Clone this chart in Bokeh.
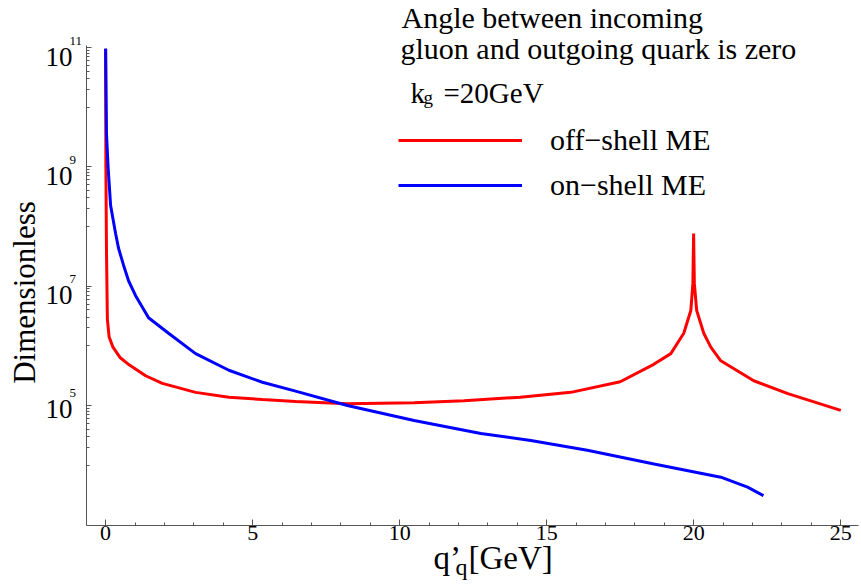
from bokeh.plotting import figure
from bokeh.models import (Label, Legend, LegendItem, FixedTicker,
                          SingleIntervalTicker, Range1d, ColumnDataSource)
from bokeh.embed import file_html
from bokeh.resources import INLINE

# ---------------- data ----------------
off_x = [0.0, 0.01, 0.03, 0.06, 0.12, 0.25, 0.5, 0.8, 1.36, 1.93, 3.06, 4.19,
         5.33, 6.46, 8.22, 10.49, 12.19, 14.1, 15.82, 17.5, 18.64, 19.22,
         19.66, 19.9, 19.97, 19.995, 20.02, 20.1, 20.34, 20.58, 20.92, 22.04,
         23.2, 25.0]
off_y = [9.5e10, 1.0e9, 4.0e7, 2.8e6, 1.4e6, 9.5e5, 6.3e5, 4.8e5, 3.15e5,
         2.35e5, 1.66e5, 1.38e5, 1.26e5, 1.17e5, 1.07e5, 1.11e5, 1.2e5, 1.38e5,
         1.66e5, 2.5e5, 4.9e5, 7.4e5, 1.62e6, 3.9e6, 1.1e7, 7.6e7, 1.1e7,
         3.9e6, 1.62e6, 9.5e5, 5.6e5, 2.6e5, 1.58e5, 8.3e4]

on_x = [0.0, 0.03, 0.085, 0.17, 0.34, 0.44, 0.61, 0.78, 1.02, 1.46, 2.14, 3.06,
        4.19, 5.33, 6.46, 8.22, 10.49, 12.76, 14.46, 16.38, 18.65, 20.92,
        21.83, 22.37]
on_y = [9.5e10, 3.6e9, 9.8e8, 2.24e8, 7.6e7, 4.3e7, 2.24e7, 1.23e7, 6.9e6,
        2.95e6, 1.62e6, 7.4e5, 3.9e5, 2.45e5, 1.74e5, 1.0e5, 5.6e4, 3.4e4,
        2.6e4, 1.78e4, 1.05e4, 6.3e3, 4.3e3, 3.1e3]

x_axis_bounds = (-0.65, 25.6)
y_axis_bounds = (10**2.99, 10**11.03)
y_major_ticks = [1e5, 1e7, 1e9, 1e11]
y_tick_exponents = ["5", "7", "9", "11"]
y_label_drop = [13, 19, 19, 19]   # baseline drop of each "10" below its tick (px)

series_labels = ["off\u2212shell ME", "on\u2212shell ME"]
series_colors = ["#ff0000", "#0000ff"]
title_lines = ["Angle between incoming", "gluon and outgoing quark is zero"]

FONT = "Liberation Serif"
W, H = 861, 585
BASE = 0.36   # renderer places "alphabetic" labels about this many em too low

# ---------------- figure ----------------
# the frame covers the whole canvas; the axes are pinned inside it
p = figure(width=W, height=H, y_axis_type="log",
           x_range=Range1d(-3.574, 25.704), y_range=Range1d(10**1.985, 10**11.784),
           output_backend="svg", toolbar_location=None,
           min_border_left=0, min_border_right=0, min_border_top=0,
           min_border_bottom=0)
p.grid.visible = False
p.outline_line_color = None
p.background_fill_color = "white"
p.border_fill_color = "white"

src_off = ColumnDataSource(dict(x=off_x, y=off_y))
src_on = ColumnDataSource(dict(x=on_x, y=on_y))
r_off = p.line("x", "y", source=src_off, line_color=series_colors[0], line_width=3)
r_on = p.line("x", "y", source=src_on, line_color=series_colors[1], line_width=3)

AX = "#555555"
# x axis
xa = p.xaxis[0]
xa.fixed_location = y_axis_bounds[0]
xa.bounds = x_axis_bounds
xa.ticker = SingleIntervalTicker(interval=5, num_minor_ticks=5)
xa.axis_line_color = AX
xa.major_tick_line_color = AX
xa.minor_tick_line_color = AX
xa.major_tick_in = 6
xa.major_tick_out = 0
xa.minor_tick_in = 3
xa.minor_tick_out = 0
xa.major_label_text_font = FONT
xa.major_label_text_font_size = "22px"
xa.major_label_text_color = "black"
xa.major_label_standoff = 0

# y axis
ya = p.yaxis[0]
ya.fixed_location = x_axis_bounds[0]
ya.bounds = y_axis_bounds
minor = [k * m / 10 for m in y_major_ticks for k in range(1, 10)]
ya.ticker = FixedTicker(ticks=y_major_ticks, minor_ticks=minor)
ya.axis_line_color = AX
ya.major_tick_line_color = AX
ya.minor_tick_line_color = AX
ya.major_tick_in = 5
ya.major_tick_out = 0
ya.minor_tick_in = 3
ya.minor_tick_out = 0
ya.major_label_text_font_size = "10px"
ya.major_label_text_alpha = 0.0


def txt(x, y, text, size, **kw):
    """Label with its baseline at canvas pixel (x, y) from the top-left."""
    s = float(size.replace("px", ""))
    opts = dict(x=x, y=H - y + BASE * s, x_units="screen", y_units="screen",
                text=text, text_align="left", text_baseline="alphabetic",
                text_font=FONT, text_font_size=size, text_color="black")
    opts.update(kw)
    p.add_layout(Label(**opts))


# y tick labels 10^n
for t, e, d in zip(y_major_ticks, y_tick_exponents, y_label_drop):
    p.add_layout(Label(x=72, y=t, x_units="screen", y_units="data", text="10",
                       y_offset=-d + BASE * 27, text_align="right",
                       text_baseline="alphabetic", text_font=FONT,
                       text_font_size="27px", text_color="black"))
    p.add_layout(Label(x=69, y=t, x_units="screen", y_units="data", text=e,
                       y_offset=-d + 21 + BASE * 13, text_align="left",
                       text_baseline="alphabetic", text_font=FONT,
                       text_font_size="13px", text_color="black"))

# axis titles (rotated one placed directly)
p.add_layout(Label(x=24, y=H - 292, x_units="screen", y_units="screen",
                   text="Dimensionless", angle=1.5707963, text_align="center",
                   text_baseline="alphabetic", text_font=FONT,
                   text_font_size="31px", text_color="black"))
txt(433, 569, "q\u2019", "33px")
txt(455, 575, "q", "24px")
txt(468, 569, "[GeV]", "33px")

# annotation texts
txt(401, 28, title_lines[0], "30px")
txt(400, 59, title_lines[1], "30px")
txt(410, 103, "k", "29px")
txt(423, 104, "g", "19px")
txt(443, 103, "=20GeV", "29px")

# legend
legend = Legend(items=[LegendItem(label=series_labels[0], renderers=[r_off]),
                       LegendItem(label=series_labels[1], renderers=[r_on])],
                location=(398, H - 202), glyph_width=124, glyph_height=30,
                label_height=30, label_standoff=28, spacing=11, padding=0,
                margin=0, border_line_color=None, background_fill_alpha=0,
                label_text_font=FONT, label_text_font_size="30px",
                label_text_color="black")
p.add_layout(legend)

open("out.html", "w").write(file_html(p, INLINE))
